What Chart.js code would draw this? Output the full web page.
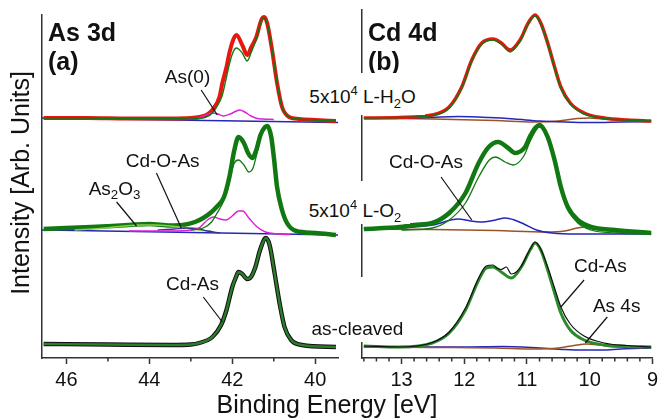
<!DOCTYPE html>
<html lang="en">
<head>
<meta charset="UTF-8">
<title>As 3d / Cd 4d</title>
<script src="https://cdn.jsdelivr.net/npm/chart.js"></script>
<style>
  body { margin: 0; background: #fff; font-family: 'Liberation Sans', Arial, sans-serif; }
  #wrap { position: relative; width: 662px; height: 418px; overflow: hidden; }
  canvas { position: absolute; top: 0; }
  #cvA { left: 0; }
  #cvB { left: 345px; }
  .lbl { position: absolute; box-sizing: border-box; font-size: 19px; color: #111; background: #fff; display: flex; justify-content: center; white-space: nowrap; }
  .lbl span { display: inline-block; line-height: 22px; }
  .lbl sup, .lbl sub { font-size: 13px; line-height: 0; position: relative; vertical-align: baseline; }
  .lbl sup { top: -0.6em; }
  .lbl sub { top: 0.35em; }
  .ttl { position: absolute; font-weight: bold; font-size: 25px; color: #111; line-height: 30px; white-space: nowrap; }
  .axt { position: absolute; font-size: 25px; color: #111; line-height: 30px; text-align: center; white-space: nowrap; }
</style>
</head>
<body>
<div id="wrap">
  <canvas id="cvA" width="345" height="418"></canvas>
  <canvas id="cvB" width="317" height="418"></canvas>

  <div class="ttl" style="left:48px; top:17px;">As 3d</div>
  <div class="ttl" style="left:48px; top:46px;">(a)</div>
  <div class="ttl" style="left:368px; top:17px;">Cd 4d</div>
  <div class="ttl" style="left:368px; top:46px;">(b)</div>

  <div class="lbl" style="left:300px; top:73px; width:125px; height:42px; align-items:flex-end; padding-bottom:7px;"><span>5x10<sup>4</sup> L-H<sub>2</sub>O</span></div>
  <div class="lbl" style="left:300px; top:181px; width:110px; height:43px; align-items:flex-end; padding-bottom:2px;"><span>5x10<sup>4</sup> L-O<sub>2</sub></span></div>
  <div class="lbl" style="left:305px; top:277px; width:105px; height:65px; align-items:flex-end; padding-bottom:2px;"><span>as-cleaved</span></div>

  <div class="axt" style="left:0; top:389px; width:654px;">Binding Energy [eV]</div>
  <div class="axt" style="left:-130px; top:168px; width:300px; transform: rotate(-90deg);">Intensity [Arb. Units]</div>
</div>

<script>
  // ---- As 3d panel (binding energy in eV, intensity in arb. units) ----
  const leftMajor = [46, 44, 42, 40];
  const leftMinor = [45, 43, 41];

  // 5x10^4 L-H2O
  const asH2O_E     = [46.55, 45.5, 44.5, 43.5, 43.0, 42.79, 42.63, 42.48, 42.31, 42.24, 42.14, 42.07, 41.98, 41.9, 41.76, 41.64, 41.54, 41.42, 41.3, 41.23, 41.16, 41.04, 40.92, 40.8, 40.63, 40.39, 40.0, 39.5];
  const asH2O_data  = [240, 240, 239.5, 239.5, 240, 241, 243, 248, 261, 275, 291, 305, 318, 323, 313, 303, 311, 321, 338, 341, 335, 308, 275, 251, 241, 239, 238, 237];
  const asH2O_fit   = [240, 240, 239.5, 239.5, 239, 239.5, 241, 245, 256, 263, 281, 294, 306, 310, 305, 297, 306, 319, 337, 340.5, 335, 308, 275, 251, 241, 239, 238, 237];
  const asH2O_as0E  = [43.1, 42.85, 42.7, 42.5, 42.35, 42.22, 42.05, 41.9, 41.82, 41.7, 41.55, 41.4, 41.25, 41.0];
  const asH2O_as0   = [239, 239.5, 242, 245, 244, 242, 244, 247, 248, 246, 242, 239.5, 239, 238.5];
  const asH2O_bgE   = [46.6, 39.45];
  const asH2O_bg    = [240, 235.5];

  // 5x10^4 L-O2
  const asO2_E      = [46.55, 45.4, 44.5, 44.0, 43.5, 43.2, 42.9, 42.7, 42.5, 42.38, 42.2, 42.07, 41.95, 41.85, 41.72, 41.62, 41.52, 41.42, 41.32, 41.21, 41.15, 41.06, 40.99, 40.92, 40.8, 40.68, 40.46, 40.0, 39.5];
  const asO2_data   = [129, 131, 133, 134, 132.5, 133, 136, 140, 146, 151, 161, 181, 208, 221, 215, 205, 200, 208, 223, 231, 232, 221, 198, 171, 148, 135, 127, 125, 123];
  const asO2_cdasE  = [43.0, 42.7, 42.5, 42.38, 42.2, 42.07, 41.95, 41.85, 41.72, 41.6, 41.5, 41.42, 41.32, 41.21, 41.15, 41.06, 40.99, 40.92, 40.8, 40.68, 40.46, 40.0, 39.5];
  const asO2_cdas   = [128, 130, 136, 144, 158, 178, 195, 198, 193, 186, 190, 202, 221, 230, 231, 220, 196, 169, 146, 133, 126, 124, 123];
  const asO2_as0E   = [44.5, 43.5, 43.0, 42.8, 42.6, 42.45, 42.3, 42.15, 42.0, 41.85, 41.75, 41.6, 41.4, 41.2, 40.9, 40.6];
  const asO2_as0    = [127, 127, 128, 130, 138, 141, 139, 138, 142, 147, 147, 140, 131, 126, 124, 123.5];
  const asO2_oxE    = [45.8, 45.2, 44.6, 44.2, 43.9, 43.5, 43.1, 42.8, 42.5];
  const asO2_ox     = [128, 129.5, 132, 133, 133, 132, 130, 128, 126.5];
  const asO2_cdoE   = [43.8, 43.4, 43.1, 42.85, 42.6, 42.3];
  const asO2_cdo    = [128, 129, 130, 129.5, 127, 125];
  const asO2_bgE    = [46.6, 39.45];
  const asO2_bg     = [128, 123];

  // as-cleaved
  const asCl_E      = [46.55, 45.0, 43.5, 43.0, 42.8, 42.48, 42.27, 42.14, 42.0, 41.92, 41.85, 41.76, 41.64, 41.57, 41.45, 41.33, 41.19, 41.1, 40.98, 40.86, 40.74, 40.58, 40.32, 39.5];
  const asCl_data   = [14, 13.5, 13, 13.5, 15, 21, 33, 48, 71, 80, 86, 84, 79, 80, 90, 108, 120, 113, 85, 55, 31, 18, 13, 11];

  // ---- Cd 4d panel ----
  const rightMajor = [13, 12, 11, 10, 9];
  const rightMinor = [13.6, 13.4, 13.2, 12.8, 12.6, 12.4, 12.2, 11.8, 11.6, 11.4, 11.2, 10.8, 10.6, 10.4, 10.2, 9.8, 9.6, 9.4, 9.2];

  const cdH2O_E     = [13.6, 13.03, 12.51, 12.24, 12.04, 11.88, 11.72, 11.54, 11.41, 11.27, 11.11, 10.98, 10.87, 10.78, 10.67, 10.56, 10.46, 10.31, 10.09, 9.77, 9.4, 9.02];
  const cdH2O_data  = [240, 240.5, 243, 251, 271, 298, 315, 319, 315, 308, 318, 335, 343, 335, 315, 291, 271, 255, 245, 240, 238, 237];
  const cdH2O_fit   = [240, 240.5, 242.5, 250, 270, 297, 314, 318, 314, 306, 317, 334, 342, 334, 314, 290, 270, 254, 244, 239.5, 238, 237];
  const cdH2O_cdoE  = [13.6, 12.6, 12.1, 11.6, 11.2, 10.8, 10.4, 10.0, 9.5, 9.02];
  const cdH2O_cdo   = [240, 240.5, 241.5, 240.5, 239, 237, 236, 235.5, 236, 236.5];
  const cdH2O_as4sE = [13.6, 12.5, 11.5, 10.9, 10.5, 10.2, 10.0, 9.8, 9.5, 9.02];
  const cdH2O_as4s  = [240, 239, 237.5, 236, 237, 239.5, 240, 239, 238, 237];

  const cdO2_E      = [13.6, 13.03, 12.8, 12.51, 12.24, 11.98, 11.77, 11.61, 11.46, 11.3, 11.19, 11.03, 10.94, 10.8, 10.67, 10.56, 10.46, 10.35, 10.19, 9.98, 9.6, 9.02];
  const cdO2_data   = [129, 131, 133, 135, 145, 165, 195, 211, 216, 210, 205, 211, 223, 233, 221, 198, 171, 151, 138, 131, 128, 125];
  const cdO2_cdasE  = [13.0, 12.51, 12.24, 11.98, 11.77, 11.6, 11.5, 11.35, 11.22, 11.05, 10.94, 10.8, 10.67, 10.56, 10.46, 10.35, 10.19, 9.98, 9.6, 9.02];
  const cdO2_cdas   = [128, 130, 138, 155, 181, 198, 201, 196, 193, 202, 218, 231, 219, 196, 169, 149, 135, 128, 125, 124];
  const cdO2_cdoE   = [13.6, 13.0, 12.5, 12.1, 11.9, 11.75, 11.5, 11.35, 11.2, 11.05, 10.85, 10.6, 10.2, 9.5, 9.02];
  const cdO2_cdo    = [129, 130, 133, 139, 137, 136, 138, 140, 138, 134, 128, 125, 124, 124, 124];
  const cdO2_as4sE  = [13.6, 12.5, 11.5, 10.7, 10.4, 10.2, 10.05, 9.85, 9.6, 9.02];
  const cdO2_as4s   = [129, 128.5, 127.5, 126, 127, 130, 131, 129, 126.5, 125];

  const cdCl_E      = [13.6, 13.03, 12.51, 12.24, 11.98, 11.77, 11.65, 11.54, 11.41, 11.25, 11.09, 10.95, 10.87, 10.78, 10.67, 10.56, 10.46, 10.31, 10.09, 9.77, 9.4, 9.02];
  const cdCl_fit    = [12, 11, 15, 25, 48, 78, 90, 91, 86, 80, 91, 108, 115, 108, 88, 65, 45, 28, 18, 13, 11.5, 11];
  const cdCl_dataE  = [13.6, 13.03, 12.51, 12.24, 11.98, 11.77, 11.65, 11.54, 11.48, 11.41, 11.33, 11.25, 11.17, 11.09, 10.95, 10.87, 10.78, 10.67, 10.56, 10.46, 10.31, 10.09, 9.77, 9.4, 9.02];
  const cdCl_data   = [12, 11, 15.5, 26, 50, 80, 92, 93, 90, 88.5, 91, 84, 86, 92, 109, 116, 109, 91, 70, 51, 34, 22, 15, 12.5, 11];
  const cdCl_as4sE  = [13.6, 12.5, 11.5, 10.9, 10.5, 10.25, 10.05, 9.85, 9.6, 9.02];
  const cdCl_as4s   = [11, 10.5, 10, 9, 10, 12.5, 14, 13, 11, 10.5];
  const cdCl_cdoE   = [13.6, 12.0, 11.4, 10.8, 10.4, 10.1, 9.8, 9.5, 9.02];
  const cdCl_cdo    = [11, 11, 11.5, 10, 8.5, 8, 8, 9, 10];

  // labels with leader lines: [text, label x, label y, line from x,y, line to x,y]
  const leftNotes = [
    ['As(0)',    43.08, 280, 42.75, 268, 42.36, 243],
    ['Cd-O-As',  43.68, 196, 43.83, 185, 43.23, 130],
    ['As_2O_3',  44.84, 168, 44.79, 156, 44.31, 132],
    ['Cd-As',    42.96, 73,  42.70, 61,  42.24, 36]
  ];
  const rightNotes = [
    ['Cd-O-As',  12.61, 195, 12.37, 181, 11.88, 138],
    ['Cd-As',    9.83,  91,  10.09, 78,  10.46, 51],
    ['As 4s',    9.57,  51,  9.72,  41,  10.07, 15]
  ];

  const RED = '#e5170f', GREEN = '#127812', MAG = '#da22d6', BLUE = '#2626b8',
        BROWN = '#9b5229', LGREEN = '#8bd040', NAVY = '#34348f';
  const FONT = "'Liberation Sans', Arial, sans-serif";

  function line(xs, ys, color, width) {
    return {
      data: xs.map((x, i) => ({ x: x, y: ys[i] })),
      borderColor: color,
      borderWidth: width,
      pointRadius: 0,
      fill: false,
      cubicInterpolationMode: 'monotone'
    };
  }

  function drawRich(ctx, text, cx, cy, size) {
    const runs = [];
    text.replace(/_(.)|\^(.)|([^_^]+)/g, (m, sub, sup, plain) => {
      if (sub) runs.push({ t: sub, s: size * 0.7, dy: size * 0.28 });
      else if (sup) runs.push({ t: sup, s: size * 0.7, dy: -size * 0.35 });
      else runs.push({ t: plain, s: size, dy: 0 });
    });
    let w = 0;
    runs.forEach(r => { ctx.font = r.s + 'px ' + FONT; r.w = ctx.measureText(r.t).width; w += r.w; });
    let px = cx - w / 2;
    ctx.fillStyle = '#111';
    ctx.textAlign = 'left';
    ctx.textBaseline = 'middle';
    runs.forEach(r => { ctx.font = r.s + 'px ' + FONT; ctx.fillText(r.t, px, cy + r.dy); px += r.w; });
  }

  const notesPlugin = {
    id: 'notes',
    afterDraw(chart, args, opts) {
      const ctx = chart.ctx, x = chart.scales.x, y = chart.scales.y;
      ctx.save();
      // minor ticks
      ctx.strokeStyle = '#333';
      ctx.lineWidth = 1.5;
      opts.minor.forEach(v => {
        const px = x.getPixelForValue(v);
        ctx.beginPath();
        ctx.moveTo(px, chart.chartArea.bottom);
        ctx.lineTo(px, chart.chartArea.bottom + 3.5);
        ctx.stroke();
      });
      // labels
      ctx.strokeStyle = '#111';
      ctx.lineWidth = 1.2;
      opts.items.forEach(n => {
        ctx.beginPath();
        ctx.moveTo(x.getPixelForValue(n[3]), y.getPixelForValue(n[4]));
        ctx.lineTo(x.getPixelForValue(n[5]), y.getPixelForValue(n[6]));
        ctx.stroke();
        drawRich(ctx, n[0], x.getPixelForValue(n[1]), y.getPixelForValue(n[2]), 19);
      });
      ctx.restore();
    }
  };

  function panel(canvasId, datasets, xMin, xMax, yMax, major, minor, notes, axisW, padTop, padRight) {
    return new Chart(document.getElementById(canvasId), {
      type: 'line',
      data: { datasets: datasets },
      plugins: [notesPlugin],
      options: {
        responsive: false,
        animation: false,
        devicePixelRatio: 1,
        layout: { padding: { top: padTop, right: padRight, left: 0, bottom: 0 } },
        scales: {
          x: {
            type: 'linear',
            reverse: true,
            min: xMin,
            max: xMax,
            afterBuildTicks: s => { s.ticks = major.map(v => ({ value: v })); },
            afterFit: s => { s.height = 60; },
            grid: { drawOnChartArea: false, drawTicks: true, tickLength: 6, tickWidth: 1.5, tickColor: '#333' },
            border: { display: true, color: '#333', width: 1.5 },
            ticks: { autoSkip: false, maxRotation: 0, padding: 4, color: '#111', font: { family: FONT, size: 20 }, callback: v => String(v) }
          },
          y: {
            min: 0,
            max: yMax,
            afterFit: s => { s.width = axisW; },
            grid: { display: false },
            border: { display: true, color: '#333', width: 1.5 },
            ticks: { display: false }
          }
        },
        plugins: {
          legend: { display: false },
          tooltip: { enabled: false },
          notes: { items: notes, minor: minor }
        }
      }
    });
  }

  // top-most dataset first
  panel('cvA', [
    line(asH2O_E, asH2O_fit, GREEN, 1.4),
    line(asH2O_as0E, asH2O_as0, MAG, 1.5),
    line(asH2O_E, asH2O_data, RED, 4),
    line(asH2O_bgE, asH2O_bg, BLUE, 1.5),
    line(asO2_cdasE, asO2_cdas, GREEN, 1.3),
    line(asO2_as0E, asO2_as0, MAG, 1.5),
    line(asO2_cdoE, asO2_cdo, NAVY, 1.3),
    line(asO2_oxE, asO2_ox, LGREEN, 1.5),
    line(asO2_E, asO2_data, GREEN, 4.5),
    line(asO2_bgE, asO2_bg, BLUE, 1.5),
    line(asCl_E, asCl_data, '#2b7d2b', 2.4),
    line(asCl_E, asCl_data, '#111', 4.4)
  ], 46.59, 39.45, 343, leftMajor, leftMinor, leftNotes, 42, 15, 7);

  panel('cvB', [
    line(cdH2O_E, cdH2O_fit, GREEN, 1.4),
    line(cdH2O_E, cdH2O_data, RED, 3.5),
    line(cdH2O_cdoE, cdH2O_cdo, BLUE, 1.5),
    line(cdH2O_as4sE, cdH2O_as4s, BROWN, 1.5),
    line(cdO2_cdasE, cdO2_cdas, GREEN, 1.3),
    line(cdO2_E, cdO2_data, GREEN, 4.5),
    line(cdO2_cdoE, cdO2_cdo, BLUE, 1.5),
    line(cdO2_as4sE, cdO2_as4s, BROWN, 1.5),
    line(cdCl_dataE, cdCl_data, '#111', 1.2),
    line(cdCl_E, cdCl_fit, '#2b8a2b', 3),
    line(cdCl_as4sE, cdCl_as4s, BROWN, 1.5),
    line(cdCl_cdoE, cdCl_cdo, BLUE, 1.5)
  ], 13.63, 9, 348, rightMajor, rightMinor, rightNotes, 17, 10, 6);
</script>
</body>
</html>
